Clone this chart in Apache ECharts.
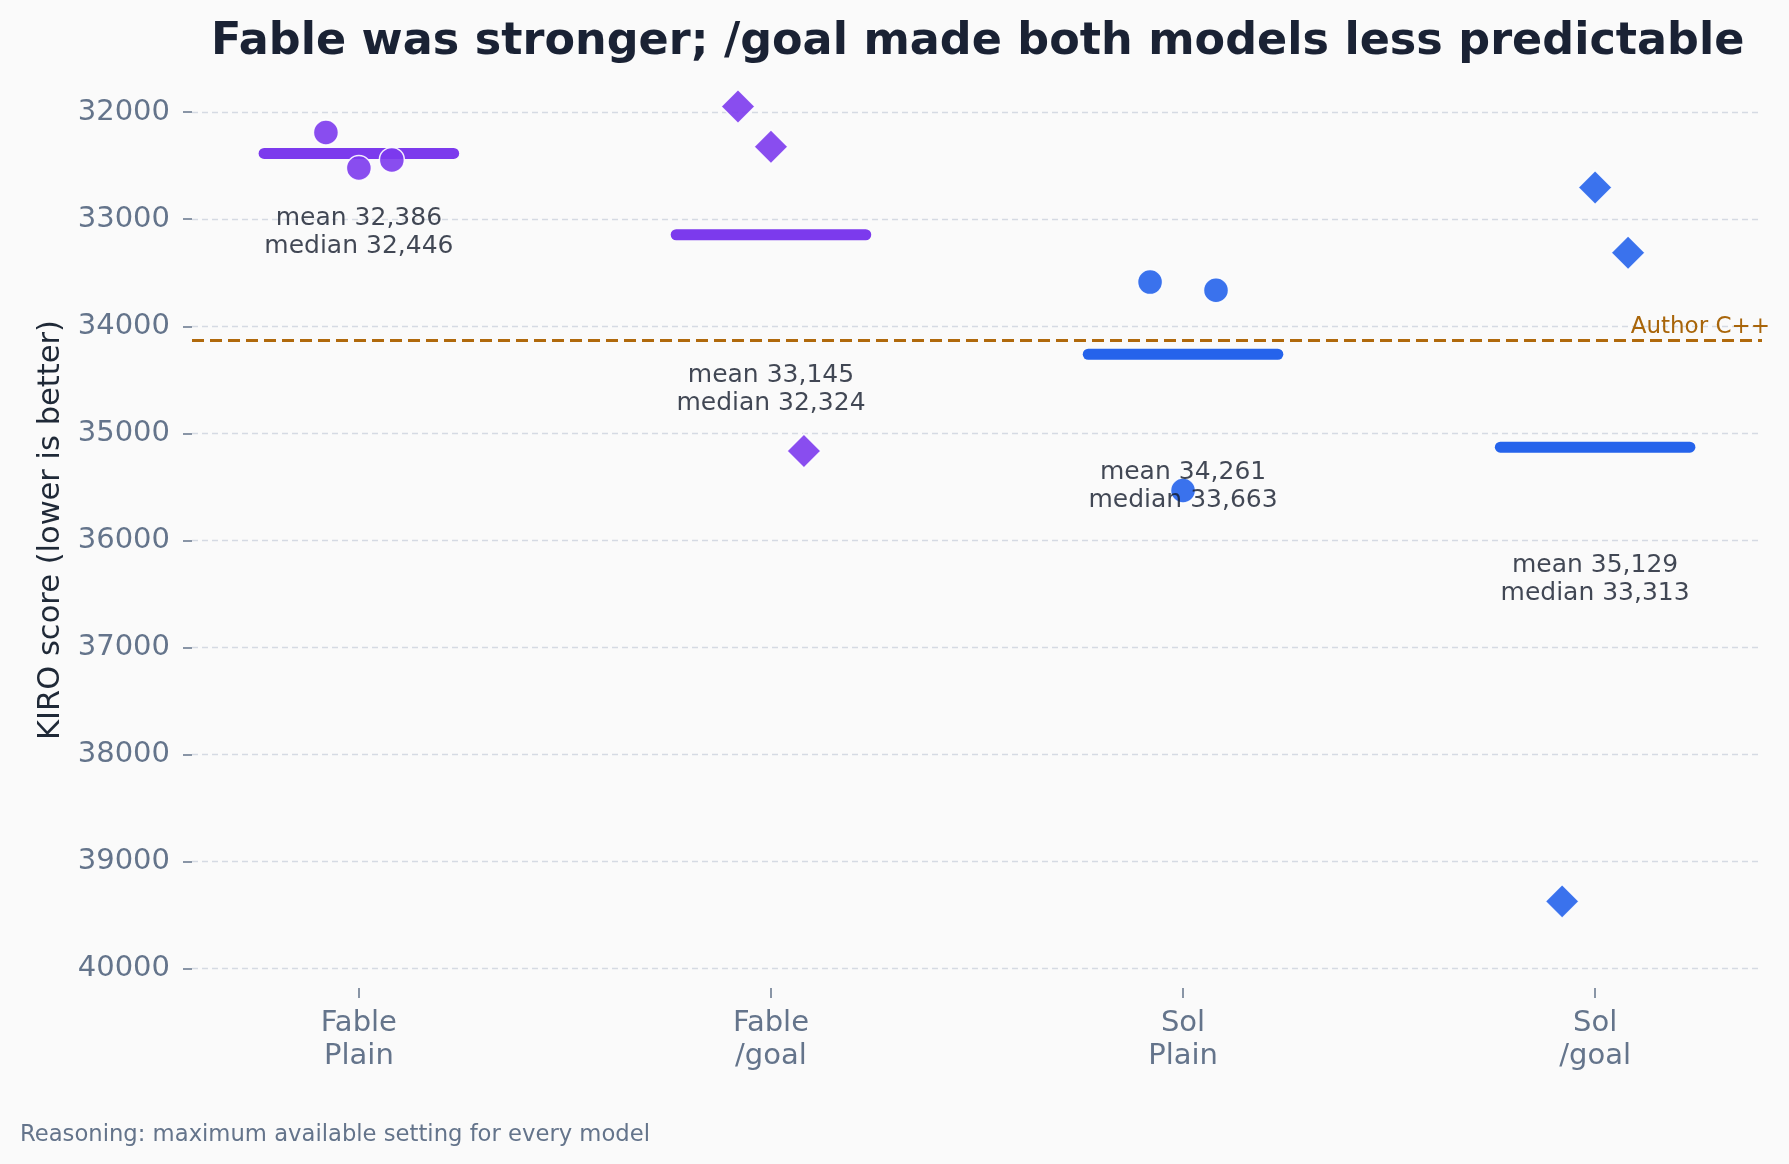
<!DOCTYPE html>
<html>
<head>
<meta charset="utf-8">
<script src="https://cdn.jsdelivr.net/npm/echarts@6/dist/echarts.min.js"></script>
<style>
  html, body { margin: 0; padding: 0; background: #fafafa; }
  #chart { width: 1789px; height: 1164px; }
</style>
</head>
<body>
<div id="chart"></div>
<script>
// x categories
const groups = ['Fable\nPlain', 'Fable\n/goal', 'Sol\nPlain', 'Sol\n/goal'];
// KIRO score of each run (lower is better)
const fablePlain = [32190, 32522, 32446];
const fableGoal = [31947, 32324, 35164];
const solPlain = [33587, 35533, 33663];
const solGoal = [39371, 32703, 33313];
// author's C++ reference score
const authorCpp = 34130;
// y tick labels
const yTicks = [32000, 33000, 34000, 35000, 36000, 37000, 38000, 39000, 40000];

const runs = [fablePlain, fableGoal, solPlain, solGoal];
const markers = ['circle', 'diamond', 'circle', 'diamond'];
const colors = ['#7c3aed', '#7c3aed', '#2563eb', '#2563eb'];
const jitter = [-0.08, 0, 0.08];
// where the mean/median note sits under each group
const noteAt = [33125, 34586, 35498, 36361];

const FONT = '"DejaVu Sans", sans-serif';

function mean(arr) {
  return arr.reduce((a, b) => a + b, 0) / arr.length;
}
function median(arr) {
  const s = arr.slice().sort((a, b) => a - b);
  return s[Math.floor(s.length / 2)];
}
function fmt(v) {
  return Math.round(v).toLocaleString('en-US');
}

const chart = echarts.init(document.getElementById('chart'));

const series = [];
runs.forEach((vals, gi) => {
  const m = mean(vals);
  // mean bar
  series.push({
    type: 'line',
    data: [[gi - 0.23, m], [gi + 0.23, m]],
    symbol: 'none',
    silent: true,
    z: 2,
    lineStyle: { width: 11, cap: 'round', color: colors[gi] }
  });
  // individual runs
  series.push({
    type: 'scatter',
    data: vals.map((v, k) => [gi + jitter[k], v]),
    symbol: markers[gi],
    symbolSize: markers[gi] === 'circle' ? 25 : 34,
    z: 3,
    itemStyle: {
      color: colors[gi],
      opacity: 0.9,
      borderColor: '#ffffff',
      borderWidth: 1.5
    }
  });
  // note text
  series.push({
    type: 'scatter',
    data: [[gi, noteAt[gi]]],
    symbolSize: 1,
    silent: true,
    z: 4,
    itemStyle: { color: 'rgba(0,0,0,0)' },
    label: {
      show: true,
      position: 'inside',
      formatter: 'mean ' + fmt(m) + '\nmedian ' + fmt(median(vals)),
      color: '#131a2a',
      fontFamily: FONT,
      fontSize: 25,
      lineHeight: 28,
      align: 'center'
    }
  });
});

// dashed author reference line
series.push({
  type: 'line',
  data: [],
  markLine: {
    silent: true,
    symbol: 'none',
    data: [{ yAxis: authorCpp }],
    lineStyle: { type: [12, 6], color: '#b0690c', width: 3 },
    label: {
      position: 'insideEndTop',
      formatter: 'Author C++',
      color: '#a8650a',
      fontFamily: FONT,
      fontSize: 23,
      distance: 2,
      offset: [10, 0]
    }
  }
});

const option = {
  backgroundColor: '#fafafa',
  animation: false,
  title: [
    {
      text: 'Fable was stronger; /goal made both models less predictable',
      left: 206,
      top: 15,
      textStyle: { fontFamily: FONT, fontSize: 44.5, fontWeight: 'bold', color: '#1a2234' }
    },
    {
      text: 'Reasoning: maximum available setting for every model',
      left: 15,
      top: 1119,
      textStyle: { fontFamily: FONT, fontSize: 22.7, fontWeight: 'normal', color: '#64748b' }
    }
  ],
  grid: { left: 192, right: 27, top: 72, bottom: 176 },
  xAxis: {
    type: 'value',
    min: -0.405,
    max: 3.405,
    axisLine: { show: false, onZero: false },
    splitLine: { show: false },
    axisTick: {
      show: true,
      customValues: [0, 1, 2, 3],
      length: 10,
      lineStyle: { color: '#64748b', width: 1.5 }
    },
    axisLabel: {
      customValues: [0, 1, 2, 3],
      formatter: (v) => groups[Math.round(v)],
      margin: 19,
      color: '#64748b',
      fontFamily: FONT,
      fontSize: 29,
      lineHeight: 33
    }
  },
  yAxis: {
    type: 'value',
    inverse: true,
    min: 31625,
    max: 40180,
    name: 'KIRO score (lower is better)',
    nameLocation: 'middle',
    nameGap: 124,
    nameTextStyle: { fontFamily: FONT, fontSize: 30.5, color: '#1f2937' },
    axisLine: { show: false, onZero: false },
    axisTick: {
      show: true,
      customValues: yTicks,
      length: 9,
      lineStyle: { color: '#64748b', width: 1.5 }
    },
    axisLabel: {
      customValues: yTicks,
      formatter: (v) => String(v),
      margin: 22,
      padding: [4, 0, 0, 0],
      color: '#64748b',
      fontFamily: FONT,
      fontSize: 29
    },
    splitLine: {
      show: true,
      lineStyle: { type: [6, 4], color: '#d5dae3', width: 1.3 }
    }
  },
  series: series
};

chart.setOption(option);
</script>
</body>
</html>
